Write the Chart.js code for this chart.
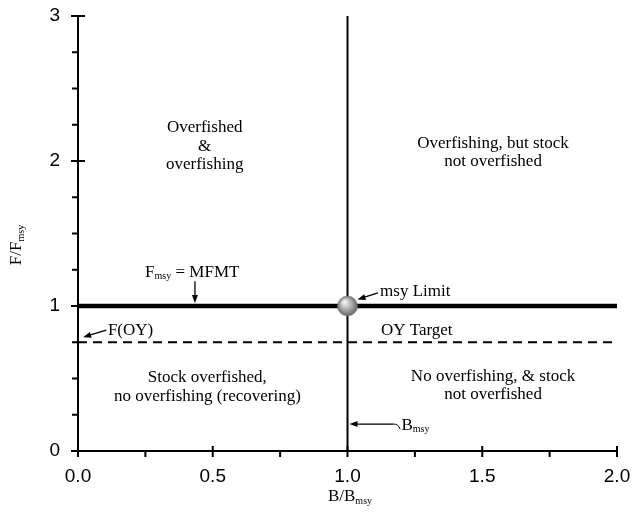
<!DOCTYPE html>
<html>
<head>
<meta charset="utf-8">
<script src="https://cdn.jsdelivr.net/npm/chart.js@4.4.1/dist/chart.umd.min.js"></script>
<style>
  html, body { margin: 0; padding: 0; background: #fff; }
  canvas { display: block; }
</style>
</head>
<body>
<canvas id="chart" width="632" height="513"></canvas>
<script>
// axis ticks
const xMajorTicks = [0, 0.5, 1, 1.5, 2];
const xMinorTicks = [0.25, 0.75, 1.25, 1.75];
const yMajorTicks = [0, 1, 2, 3];
const yMinorTicks = [0.25, 0.5, 0.75, 1.25, 1.5, 1.75, 2.25, 2.5, 2.75];

// reference lines
const fmsyX = [0, 2];
const fmsyY = [1, 1];
const oyX = [0, 2];
const oyY = [0.75, 0.75];
const bmsyX = [1, 1];
const bmsyY = [0, 3];
const msyPoint = [1, 1];

// quadrant labels
const zoneText = [
  ['Overfished', '&', 'overfishing'],
  ['Overfishing, but stock', 'not overfished'],
  ['Stock overfished,', 'no overfishing (recovering)'],
  ['No overfishing, & stock', 'not overfished'],
];
const zoneX = [0.47, 1.54, 0.48, 1.54];
const zoneY = [2.1, 2.06, 0.44, 0.45];

const SERIF = '"Liberation Serif", "Times New Roman", serif';
const SANS = '"Liberation Sans", Arial, sans-serif';

function pts(xs, ys) {
  return xs.map((x, i) => ({ x: x, y: ys[i] }));
}

// text with "msy" style subscripts: parts = [[text, isSub], ...]
function textWidth(ctx, parts) {
  let w = 0;
  parts.forEach(([t, sub]) => {
    ctx.font = sub ? '10px ' + SERIF : '17px ' + SERIF;
    w += ctx.measureText(t).width;
  });
  return w;
}
function drawParts(ctx, parts, x, y) {
  ctx.textBaseline = 'middle';
  ctx.textAlign = 'left';
  parts.forEach(([t, sub]) => {
    ctx.font = sub ? '10px ' + SERIF : '17px ' + SERIF;
    ctx.fillText(t, x, sub ? y + 4 : y);
    x += ctx.measureText(t).width;
  });
}
function arrow(ctx, x1, y1, x2, y2) {
  const a = Math.atan2(y2 - y1, x2 - x1);
  ctx.beginPath();
  ctx.moveTo(x1, y1);
  ctx.lineTo(x2 - 5 * Math.cos(a), y2 - 5 * Math.sin(a));
  ctx.lineWidth = 1.3;
  ctx.stroke();
  ctx.beginPath();
  ctx.moveTo(x2, y2);
  ctx.lineTo(x2 - 8 * Math.cos(a) + 3 * Math.sin(a), y2 - 8 * Math.sin(a) - 3 * Math.cos(a));
  ctx.lineTo(x2 - 8 * Math.cos(a) - 3 * Math.sin(a), y2 - 8 * Math.sin(a) + 3 * Math.cos(a));
  ctx.closePath();
  ctx.fill();
}

const extras = {
  id: 'extras',
  afterDraw(chart) {
    const ctx = chart.ctx;
    const sx = chart.scales.x, sy = chart.scales.y;
    const px = v => sx.getPixelForValue(v);
    const py = v => sy.getPixelForValue(v);
    const area = chart.chartArea;
    ctx.save();
    ctx.strokeStyle = '#000';
    ctx.fillStyle = '#000';

    // tick marks
    ctx.lineWidth = 2;
    ctx.beginPath();
    yMajorTicks.forEach(v => { ctx.moveTo(area.left - 7, py(v)); ctx.lineTo(area.left + 7, py(v)); });
    yMinorTicks.forEach(v => { ctx.moveTo(area.left - 6, py(v)); ctx.lineTo(area.left, py(v)); });
    xMajorTicks.forEach(v => { ctx.moveTo(px(v), area.bottom - 5); ctx.lineTo(px(v), area.bottom + 6); });
    xMinorTicks.forEach(v => { ctx.moveTo(px(v), area.bottom); ctx.lineTo(px(v), area.bottom + 6); });
    ctx.stroke();

    // quadrant labels
    ctx.font = '17px ' + SERIF;
    ctx.textAlign = 'center';
    ctx.textBaseline = 'middle';
    zoneText.forEach((lines, i) => {
      const cx = px(zoneX[i]);
      const cy = py(zoneY[i]) - (lines.length - 1) * 18.5 / 2;
      lines.forEach((t, j) => ctx.fillText(t, cx, cy + j * 18.5));
    });

    // Fmsy = MFMT
    drawParts(ctx, [['F', false], ['msy', true], [' = MFMT', false]], px(0.249), py(1.234));
    arrow(ctx, px(0.434), py(1.17), px(0.434), py(1) - 3);

    // F(OY)
    drawParts(ctx, [['F(OY)', false]], px(0.111), py(0.834));
    arrow(ctx, px(0.105), py(0.834), px(0.019), py(0.785));

    // msy Limit
    drawParts(ctx, [['msy Limit', false]], px(1.121), py(1.097));
    arrow(ctx, px(1.113), py(1.09), px(1.037), py(1.045));

    // OY Target
    drawParts(ctx, [['OY Target', false]], px(1.124), py(0.834));

    // Bmsy
    arrow(ctx, px(1.17), py(0.186), px(1) + 2, py(0.186));
    ctx.beginPath();
    ctx.lineWidth = 1;
    ctx.moveTo(px(1.17), py(0.186));
    ctx.quadraticCurveTo(px(1.19), py(0.186), px(1.195), py(0.15));
    ctx.stroke();
    drawParts(ctx, [['B', false], ['msy', true]], px(1.2), py(0.179));

    // axis titles
    const xt = [['B/B', false], ['msy', true]];
    drawParts(ctx, xt, 350 - textWidth(ctx, xt) / 2, 497);
    const yt = [['F/F', false], ['msy', true]];
    ctx.translate(17, 245);
    ctx.rotate(-Math.PI / 2);
    drawParts(ctx, yt, -textWidth(ctx, yt) / 2, 0);
    ctx.restore();
  }
};

function sphere(context) {
  const chart = context.chart;
  if (!chart.chartArea) return '#999';
  const cx = chart.scales.x.getPixelForValue(msyPoint[0]);
  const cy = chart.scales.y.getPixelForValue(msyPoint[1]);
  const g = chart.ctx.createRadialGradient(cx - 3, cy - 4, 1, cx, cy, 11);
  g.addColorStop(0, '#f2f2f2');
  g.addColorStop(0.5, '#a8a8a8');
  g.addColorStop(1, '#5a5a5a');
  return g;
}

new Chart(document.getElementById('chart'), {
  type: 'scatter',
  data: {
    datasets: [
      {
        data: [{ x: msyPoint[0], y: msyPoint[1] }],
        pointRadius: 10,
        pointBackgroundColor: sphere,
        pointBorderColor: '#777',
        pointBorderWidth: 0.5,
        order: 0,
      },
      {
        data: pts(fmsyX, fmsyY),
        showLine: true,
        borderColor: '#000',
        borderWidth: 4.5,
        pointRadius: 0,
        order: 1,
      },
      {
        data: pts(oyX, oyY),
        showLine: true,
        borderColor: '#000',
        borderWidth: 2,
        borderDash: [9, 6],
        pointRadius: 0,
        order: 2,
      },
      {
        data: pts(bmsyX, bmsyY),
        showLine: true,
        borderColor: '#000',
        borderWidth: 2,
        pointRadius: 0,
        order: 3,
      },
    ],
  },
  options: {
    responsive: false,
    animation: false,
    layout: { padding: { left: 0, top: 16, right: 15, bottom: 0 } },
    plugins: { legend: { display: false }, tooltip: { enabled: false } },
    scales: {
      x: {
        type: 'linear',
        min: 0,
        max: 2,
        afterFit: (scale) => {
          scale.height = 62;
          scale.paddingLeft = 0;
          scale.paddingRight = 0;
        },
        afterBuildTicks: (scale) => { scale.ticks = xMajorTicks.map(v => ({ value: v })); },
        grid: { display: false, drawTicks: false },
        border: { display: true, color: '#000', width: 2 },
        ticks: {
          color: '#000',
          font: { family: SANS, size: 19 },
          padding: 14,
          callback: (v) => v.toFixed(1),
        },
      },
      y: {
        type: 'linear',
        min: 0,
        max: 3,
        afterFit: (scale) => {
          scale.width = 78;
          scale.paddingTop = 0;
          scale.paddingBottom = 0;
        },
        afterBuildTicks: (scale) => { scale.ticks = yMajorTicks.map(v => ({ value: v })); },
        grid: { display: false, drawTicks: false },
        border: { display: true, color: '#000', width: 2 },
        ticks: {
          color: '#000',
          font: { family: SANS, size: 19 },
          padding: 18,
          callback: (v) => String(v),
        },
      },
    },
  },
  plugins: [extras],
});
</script>
</body>
</html>
